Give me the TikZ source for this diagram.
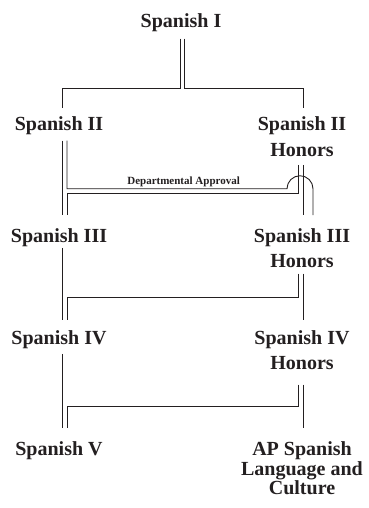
\documentclass[tikz,border=0pt]{standalone}
\usepackage{fontspec}
\setmainfont{Liberation Serif}
\usepackage{tikz}
\definecolor{ink}{RGB}{35,31,32}
\tikzstyle{course} = [anchor=north, inner sep=0pt, align=center, text=ink, font=\fontsize{20}{25.5}\selectfont\bfseries]
\tikzstyle{tight} = [font=\fontsize{20}{19.3}\selectfont\bfseries]
\tikzstyle{link} = [draw=ink, line width=0.9pt]
\tikzstyle{note} = [text=ink, inner sep=1.5pt, font=\fontsize{11}{12}\selectfont\bfseries]

\begin{document}
\begin{tikzpicture}[x=1pt, y=1pt]
	  \useasboundingbox (0,0) rectangle (368,-508);

	  \node (s1) at ( 181,-13) [course] {Spanish I};
	  \node (s2) at ( 59,-116.5) [course] {Spanish II};
	  \node (s2h) at ( 302,-116.5) [course] {Spanish II\\Honors};
	  \node (s3) at ( 59,-228.3) [course] {Spanish III};
	  \node (s3h) at ( 302,-228.3) [course] {Spanish III\\Honors};
	  \node (s4) at ( 59,-330) [course] {Spanish IV};
	  \node (s4h) at ( 302,-330) [course] {Spanish IV\\Honors};
	  \node (s5) at ( 59,-441.7) [course] {Spanish V};
	  \node (ap) at ( 302,-441.7) [course, tight] {AP Spanish\\Language and\\Culture};

	  % Spanish I splits both ways
	  \draw [link] ([xshift=-1pt,yshift=-7pt]s1.south) -- ++(0,-50) -| ([xshift=3pt,yshift=8.5pt]s2.north);
	  \draw [link] ([xshift=3.5pt,yshift=-7pt]s1.south) -- ++(0,-50) -| ([xshift=1pt,yshift=8.5pt]s2h.north);

	  % level II to level III
	  \draw [link] ([xshift=3pt,yshift=-5.7pt]s2.south) -- ([xshift=3pt,yshift=13.3pt]s3.north);
	  \draw [link] ([xshift=8pt,yshift=-5.7pt]s2.south) -- ++(0,-48) -- ++(220,0) node [note, pos=0.53, above] {Departmental Approval}
	    arc [start angle=180, end angle=0, radius=13] -- ([xshift=11pt,yshift=13.3pt]s3h.north);
	  \draw [link] ([xshift=-4pt,yshift=-8.3pt]s2h.south) -- ++(0,-29) -| ([xshift=8.7pt,yshift=13.3pt]s3.north);
	  \draw [link] ([xshift=1pt,yshift=-8.3pt]s2h.south) -- ([xshift=1pt,yshift=13.3pt]s3h.north);

	  % level III to level IV
	  \draw [link] ([xshift=3pt,yshift=-1pt]s3.south) -- ([xshift=3pt,yshift=10pt]s4.north);
	  \draw [link] ([xshift=-4pt,yshift=-5.3pt]s3h.south) -- ++(0,-24) -| ([xshift=8.7pt,yshift=10pt]s4.north);
	  \draw [link] ([xshift=1pt,yshift=-5.3pt]s3h.south) -- ([xshift=1pt,yshift=10pt]s4h.north);

	  % level IV to level V
	  \draw [link] ([xshift=3pt,yshift=-5.4pt]s4.south) -- ([xshift=3pt,yshift=13.7pt]s5.north);
	  \draw [link] ([xshift=-4pt,yshift=-14.7pt]s4h.south) -- ++(0,-22) -| ([xshift=8.7pt,yshift=13.7pt]s5.north);
	  \draw [link] ([xshift=1pt,yshift=-14.7pt]s4h.south) -- ([xshift=1pt,yshift=13.7pt]ap.north);
	\end{tikzpicture}
\end{document}
